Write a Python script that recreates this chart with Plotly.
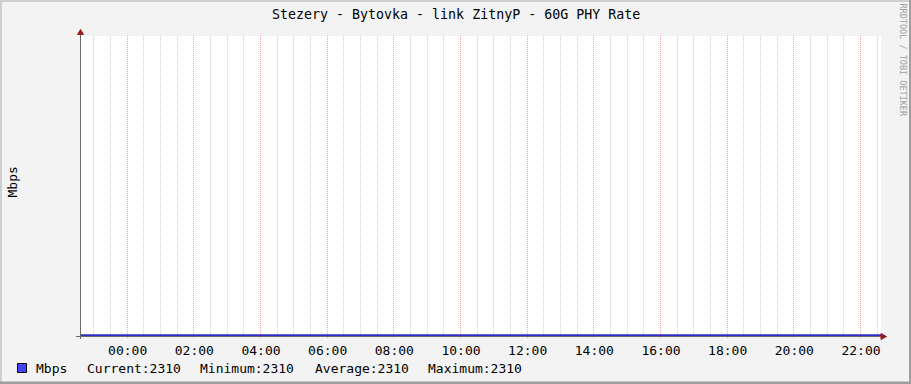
import math
import plotly.graph_objects as go
import pandas as pd

# ---- data ----
times = ["2024-01-01 22:36", "2024-01-02 00:00", "2024-01-02 02:00", "2024-01-02 04:00",
         "2024-01-02 06:00", "2024-01-02 08:00", "2024-01-02 10:00", "2024-01-02 12:00",
         "2024-01-02 14:00", "2024-01-02 16:00", "2024-01-02 18:00", "2024-01-02 20:00",
         "2024-01-02 22:00", "2024-01-02 22:36"]
mbps = [2310, 2310, 2310, 2310, 2310, 2310, 2310, 2310, 2310, 2310, 2310, 2310, 2310, 2310]
x_range = ["2024-01-01 22:36", "2024-01-02 22:36"]
title_text = "Stezery - Bytovka - link ZitnyP - 60G PHY Rate"
y_label = "Mbps"
legend_name = "Mbps"
legend_stats = [("Current", 2310), ("Minimum", 2310), ("Average", 2310), ("Maximum", 2310)]
watermark = "RRDTOOL / TOBI OETIKER"

W, H = 911, 384
L, R, T, B = 81, 881, 36, 336
PW, PH = R - L, B - T
MONO = "DejaVu Sans Mono"

t_start = pd.Timestamp(x_range[0])
t_end = pd.Timestamp(x_range[1])
span = (t_end - t_start).total_seconds()

# grid positions (every 30 min; 2-hourly are major)
_half_hours = pd.date_range("2024-01-01 23:00", "2024-01-02 22:30", freq="30min")
major_ticks = [t for t in _half_hours if t.minute == 0 and t.hour % 2 == 0]
minor_ticks = [t for t in _half_hours if not (t.minute == 0 and t.hour % 2 == 0)]


def px(x):
    return (x - L) / PW


def py(y):
    return (B - y) / PH


def snapped_time(t):
    # position on the axis scale, snapped to a device pixel column centre (like RRDtool)
    exact = L + (t - t_start).total_seconds() / span * PW
    snap = math.floor(exact - 0.5) + 0.5
    secs = (snap - L) / PW * span
    return (t_start + pd.Timedelta(seconds=secs)).strftime("%Y-%m-%d %H:%M:%S.%f")


fig = go.Figure()
fig.add_trace(go.Scatter(x=times, y=mbps, mode="lines",
                         line=dict(color="#2f2fc8", width=2), hoverinfo="skip",
                         showlegend=False))

shapes = []
# grid lines (dotted)
for t in minor_ticks:
    xt = snapped_time(t)
    shapes.append(dict(type="line", xref="x", yref="paper", x0=xt, x1=xt, y0=py(336), y1=py(34),
                       line=dict(color="#d0d0d0", width=1, dash="1px,1px"), layer="below"))
for t in major_ticks:
    xt = snapped_time(t)
    shapes.append(dict(type="line", xref="x", yref="paper", x0=xt, x1=xt, y0=py(338), y1=py(34),
                       line=dict(color="#f4a0a0", width=1, dash="1px,1px"), layer="below"))
# outer borders
shapes.append(dict(type="rect", xref="paper", yref="paper", x0=px(0), x1=px(W), y0=py(2), y1=py(0),
                   line=dict(width=0), fillcolor="#cfcfcf", layer="below"))
shapes.append(dict(type="rect", xref="paper", yref="paper", x0=px(0), x1=px(2), y0=py(H), y1=py(0),
                   line=dict(width=0), fillcolor="#cfcfcf", layer="below"))
shapes.append(dict(type="rect", xref="paper", yref="paper", x0=px(0), x1=px(W), y0=py(H), y1=py(H - 2.5),
                   line=dict(width=0), fillcolor="#9e9e9e", layer="above"))
shapes.append(dict(type="rect", xref="paper", yref="paper", x0=px(W - 2), x1=px(W), y0=py(H), y1=py(0),
                   line=dict(width=0), fillcolor="#9e9e9e", layer="above"))
# axes lines
shapes.append(dict(type="line", xref="paper", yref="paper", x0=px(80.5), x1=px(80.5), y0=py(339), y1=py(32),
                   line=dict(color="#6a6a6a", width=1), layer="above"))
shapes.append(dict(type="line", xref="paper", yref="paper", x0=px(76), x1=px(883), y0=py(336.5), y1=py(336.5),
                   line=dict(color="#6a6a6a", width=1), layer="below"))
# arrows
shapes.append(dict(type="path", xref="paper", yref="paper",
                   path="M {} {} L {} {} L {} {} Z".format(px(77.5), py(34.5), px(83.5), py(34.5), px(80.5), py(29.5)),
                   line=dict(color="#9b1c1c", width=1), fillcolor="#9b1c1c", layer="above"))
shapes.append(dict(type="path", xref="paper", yref="paper",
                   path="M {} {} L {} {} L {} {} Z".format(px(881), py(333.5), px(881), py(339.5), px(886.5), py(336.5)),
                   line=dict(color="#9b1c1c", width=1), fillcolor="#9b1c1c", layer="above"))
# legend swatch
shapes.append(dict(type="rect", xref="paper", yref="paper", x0=px(17.5), x1=px(26.5), y0=py(372.5), y1=py(363.5),
                   line=dict(color="#000000", width=1), fillcolor="#4444ff", layer="above"))

annotations = [
    dict(text=title_text, xref="paper", yref="paper", x=px(455.5), y=py(14.5), showarrow=False,
         font=dict(family=MONO, size=13.3, color="#000000"), xanchor="center", yanchor="middle"),
    dict(text=y_label, xref="paper", yref="paper", x=px(11.5), y=py(182), showarrow=False, textangle=-90,
         font=dict(family=MONO, size=13, color="#000000"), xanchor="center", yanchor="middle"),
    dict(text=watermark, xref="paper", yref="paper", x=px(902.5), y=py(60), showarrow=False, textangle=90,
         font=dict(family=MONO, size=8.5, color="#a0a0a0"), xanchor="center", yanchor="middle"),
    dict(text=legend_name, xref="paper", yref="paper", x=px(34), y=py(368.5), showarrow=False,
         font=dict(family=MONO, size=13, color="#000000"), xanchor="left", yanchor="middle"),
]
stat_x = [85, 198, 313, 426]
for (name, val), sx in zip(legend_stats, stat_x):
    annotations.append(dict(text="{}:{}".format(name, val), xref="paper", yref="paper", x=px(sx), y=py(368.5),
                            showarrow=False, font=dict(family=MONO, size=13, color="#000000"),
                            xanchor="left", yanchor="middle"))

fig.update_layout(
    width=W, height=H,
    margin=dict(l=L, r=W - R, t=T, b=H - B, pad=0),
    paper_bgcolor="#f3f3f3", plot_bgcolor="#ffffff",
    shapes=shapes, annotations=annotations,
    showlegend=False,
    xaxis=dict(
        type="date", range=x_range, tickformat="%H:%M",
        tick0="2024-01-02 00:00", dtick=7200000,
        showgrid=False, ticks="outside", ticklen=2, tickcolor="rgba(0,0,0,0)",
        tickfont=dict(family=MONO, size=13, color="#000000"),
        showline=False, zeroline=False, fixedrange=True,
    ),
    yaxis=dict(
        range=[2309.977, 2320], showticklabels=False, showgrid=False, zeroline=False,
        showline=False, ticks="", fixedrange=True,
    ),
)

fig.write_html("out.html", config={"displayModeBar": False})
